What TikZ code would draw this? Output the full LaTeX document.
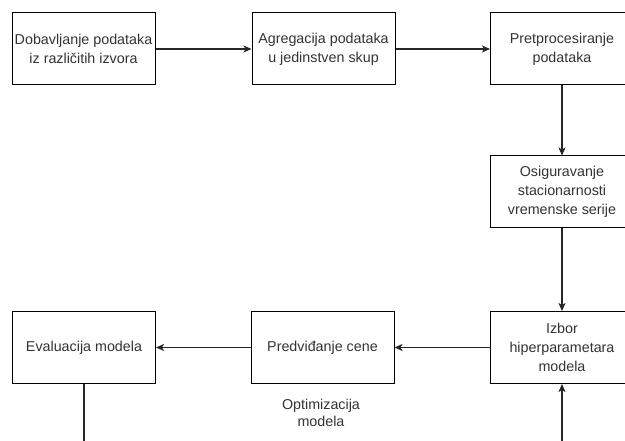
\documentclass[tikz,border=0pt]{standalone}
\usepackage{fontspec}
\setmainfont{Liberation Sans}
\usetikzlibrary{arrows.meta}
\definecolor{txt}{HTML}{333333}
\tikzset{
  box/.style={draw=black, line width=1pt, fill=white, minimum width=143pt, minimum height=72pt,
    align=center, inner sep=2pt, text=txt, font=\fontsize{14.3}{19}\selectfont},
  conn/.style={draw=black!85, line width=1.1pt, -{Stealth[length=8pt,width=7pt,inset=2pt]}},
  lbl/.style={text=txt, align=center, font=\fontsize{14.3}{17.5}\selectfont}
}
\begin{document}
\begin{tikzpicture}[x=1pt,y=-1pt]
\useasboundingbox (0,0) rectangle (625,441);
\clip (0,0) rectangle (625,441);
\fill[white] (0,0) rectangle (625,441);
\node[box] (b1) at (83.5,49) {Dobavljanje podataka\\iz različitih izvora};
\node[box] (b2) at (323.5,49) {Agregacija podataka\\u jedinstven skup};
\node[box] (b3) at (562,49) {Pretprocesiranje\\podataka};
\node[box] (b4) at (562,192) {Osiguravanje\\stacionarnosti\\vremenske serije};
\node[box] (b5) at (562,347.5) {Izbor\\hiperparametara\\modela};
\node[box] (b6) at (322.5,347.5) {Predviđanje cene};
\node[box] (b7) at (84,347.5) {Evaluacija modela};
\node[lbl] (opt) at (321,413) {Optimizacija\\modela};
\coordinate (c1) at (84,470);
\coordinate (c2) at (562,470);
\draw[conn] (b1) -- (b2);
\draw[conn] (b2) -- (b3);
\draw[conn] (b3) -- (b4);
\draw[conn] (b4) -- (b5);
\draw[conn] (b5) -- (b6);
\draw[conn] (b6) -- (b7);
\draw[conn] (b7.south) -- (c1) -- (c2) -- (b5.south);
\end{tikzpicture}
\end{document}
